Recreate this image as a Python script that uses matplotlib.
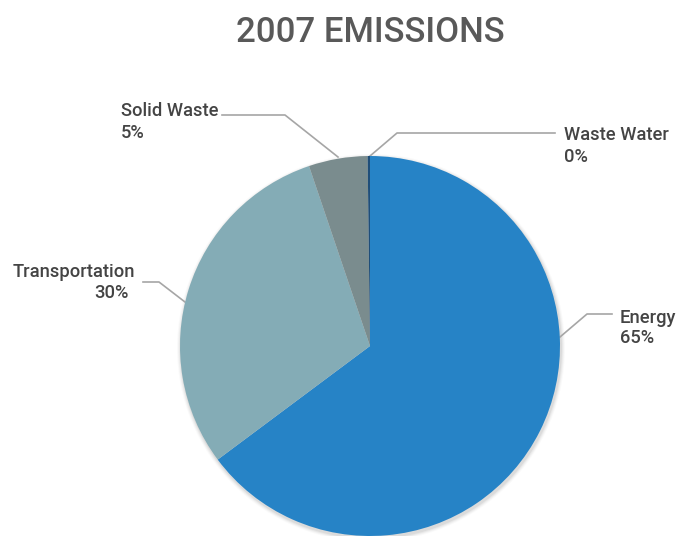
import matplotlib
matplotlib.use("Agg")
import matplotlib.pyplot as plt
import numpy as np
from matplotlib.patches import Circle

categories = ["Energy", "Transportation", "Solid Waste", "Waste Water"]
values = [64.8, 30.0, 5.0, 0.2]
colors = ["#2683C6", "#84ACB6", "#7A8C8E", "#1F4E79"]
title = "2007 EMISSIONS"

W, H = 692, 536
fig = plt.figure(figsize=(W / 100, H / 100), dpi=100)
ax = fig.add_axes([0, 0, 1, 1])

cx, cy, r = 370, H - 346, 190

# soft shadow
for i, a in enumerate([0.05, 0.04, 0.03, 0.02]):
    ax.add_patch(Circle((cx + 1, cy - 2), r + 1 + i, color="black", alpha=a, lw=0, zorder=0))

wedges, _ = ax.pie(values, colors=colors, startangle=90, counterclock=False,
                   center=(cx, cy), radius=r, frame=True,
                   wedgeprops=dict(linewidth=0, zorder=2))
ax.set_xlim(0, W)
ax.set_ylim(0, H)
ax.set_aspect("equal")
ax.axis("off")

pct = [f"{int(round(v))}%" for v in values]

line_c = "#A6A6A6"
txt_c = "#444444"
font = ["Roboto", "DejaVu Sans"]
fs = 13.2

# leader lines: (edge point, elbow, end); text x, baselines (px from top), alignment
layout = {
    "Energy": dict(pts=[(560, 337), (587, 314), (612, 314)], x=(620, 620), base=(323, 343), ha="left"),
    "Transportation": dict(pts=[(185, 302), (159, 282), (143, 282)], x=(135, 129), base=(277, 298), ha="right"),
    "Solid Waste": dict(pts=[(338, 157), (285, 115), (222, 115)], x=(121, 121), base=(116, 138), ha="left"),
    "Waste Water": dict(pts=[(370, 156), (397, 133), (555, 133)], x=(564, 564), base=(140, 162), ha="left"),
}

for cat, p in zip(categories, pct):
    L = layout[cat]
    xs = [q[0] for q in L["pts"]]
    ys = [H - q[1] for q in L["pts"]]
    ax.plot(xs, ys, color=line_c, lw=1.2, zorder=1)
    ax.text(L["x"][0], H - L["base"][0], cat, ha=L["ha"], va="baseline", fontsize=fs,
            color=txt_c, family=font, fontweight="medium")
    ax.text(L["x"][1], H - L["base"][1], p, ha=L["ha"], va="baseline", fontsize=fs,
            color=txt_c, family=font, fontweight="medium")

ax.text(370, H - 42, title, ha="center", va="baseline", fontsize=25,
        color="#595959", family=font, fontweight="medium")

fig.savefig("out.png", dpi=100)
